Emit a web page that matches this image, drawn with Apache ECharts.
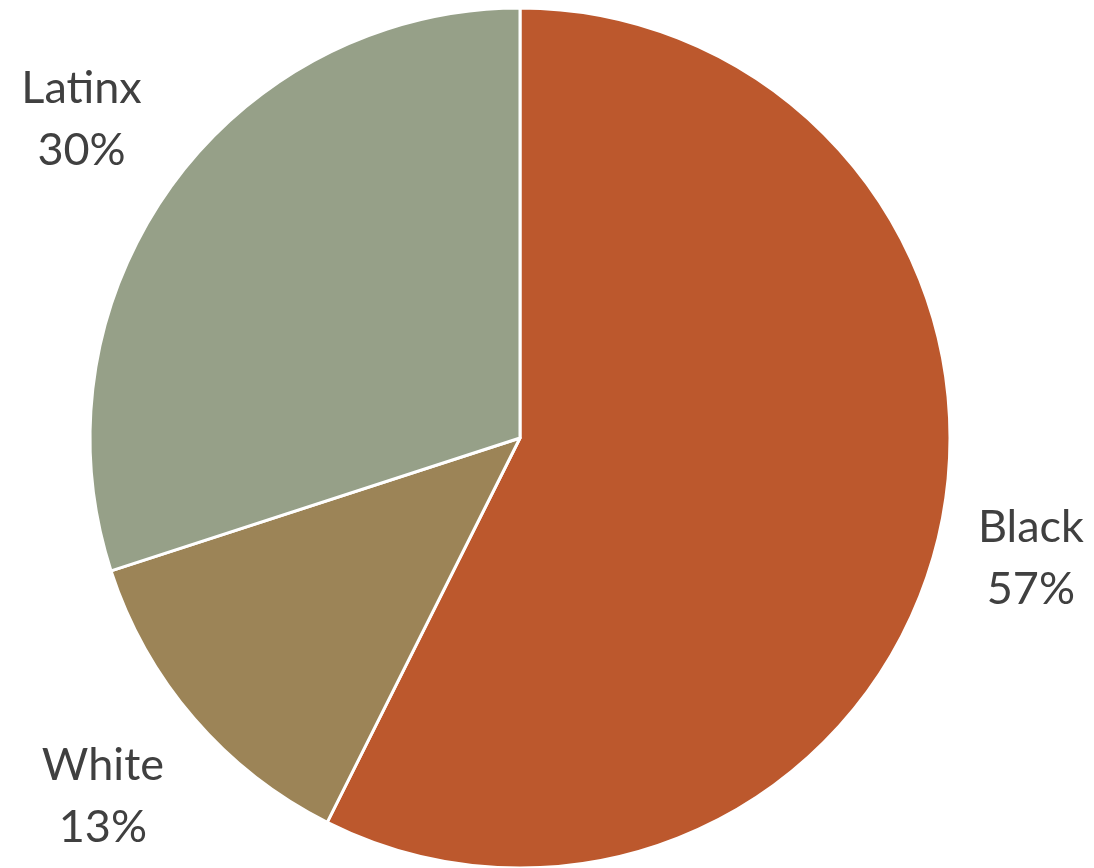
<!DOCTYPE html>
<html>
<head>
<meta charset="utf-8">
<script src="https://cdn.jsdelivr.net/npm/echarts@6/dist/echarts.min.js"></script>
<style>
html, body { margin: 0; padding: 0; background: #fff; }
#main { width: 1094px; height: 868px; }
</style>
</head>
<body>
<div id="main"></div>
<script>
// data
var groups = ['Black', 'White', 'Latinx'];
var shares = [57.4, 12.6, 30.0];
var sliceColors = ['#BC582D', '#9C8457', '#96A088'];

var chart = echarts.init(document.getElementById('main'));

var cx = 520, cy = 438, r = 430;
var startAngle = 90;
var total = shares.reduce(function (a, b) { return a + b; }, 0);

// mid angle of each slice, for placing labels
var midAngles = [];
var acc = 0;
shares.forEach(function (v) {
    var mid = startAngle - (acc + v / 2) / total * 360;
    midAngles.push(mid * Math.PI / 180);
    acc += v;
});
var labelDist = [525, 550, 542];

var option = {
    backgroundColor: '#fff',
    series: [{
        type: 'pie',
        center: [cx, cy],
        radius: r,
        startAngle: startAngle,
        clockwise: true,
        animation: false,
        percentPrecision: 0,
        data: groups.map(function (g, i) {
            return { name: g, value: shares[i], itemStyle: { color: sliceColors[i] } };
        }),
        itemStyle: {
            borderColor: '#fff',
            borderWidth: 3
        },
        label: {
            show: true,
            position: 'outside',
            formatter: '{b}\n{d}%',
            fontFamily: 'Lato, "Open Sans", sans-serif',
            fontSize: 45,
            lineHeight: 62,
            color: '#404040',
            align: 'center',
            overflow: 'none'
        },
        labelLine: { show: false },
        labelLayout: function (params) {
            var a = midAngles[params.dataIndex];
            var d = labelDist[params.dataIndex];
            return {
                x: cx + Math.cos(a) * d,
                y: cy - Math.sin(a) * d,
                align: 'center',
                verticalAlign: 'middle'
            };
        }
    }]
};

chart.setOption(option);
</script>
</body>
</html>
